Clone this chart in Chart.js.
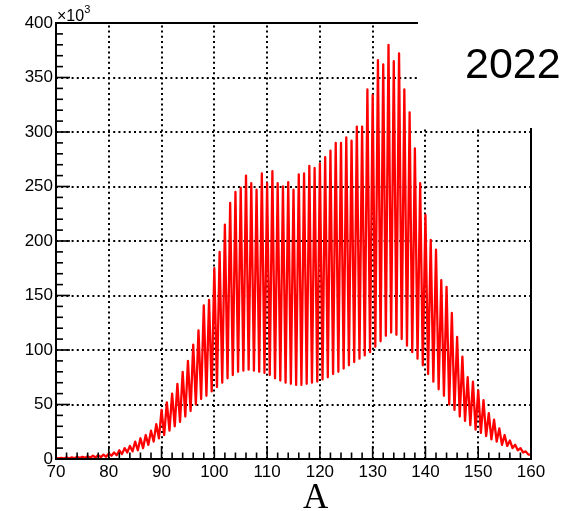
<!DOCTYPE html>
<html><head><meta charset="utf-8">
<script src="https://cdn.jsdelivr.net/npm/chart.js@4/dist/chart.umd.min.js"></script>
<style>html,body{margin:0;padding:0;background:#fff;overflow:hidden}#wrap{width:572px;height:511px;position:relative}</style>
</head><body><div id="wrap"><canvas id="c" width="572" height="511"></canvas></div>
<script>
// Mass numbers A (peaks at integer A, valleys at A + 0.5)
const massNumbers = [70,71,72,73,74,75,76,77,78,79,80,81,82,83,84,85,86,87,88,89,90,91,92,93,94,95,96,97,98,99,100,101,102,103,104,105,106,107,108,109,110,111,112,113,114,115,116,117,118,119,120,121,122,123,124,125,126,127,128,129,130,131,132,133,134,135,136,137,138,139,140,141,142,143,144,145,146,147,148,149,150,151,152,153,154,155,156,157,158,159,160];
// counts (x10^3) at integer A
const peakCounts = [1,1,1.5,1.5,2,2,2.5,3,3.5,4,5,6,8,10,12,16,19,22,26,32,45,52,60,69,80,90,105,118,141,146,175,190,215,235,245,249,260,253,247,262,253,264,253,250,254,247,261,262,269,267,271,277,283,290,290,295,292,305,305,339,334,366,362,380,365,372,339,318,285,253,224,201,192,164,158,134,112,94,75,71,63,54,42,36,28,22,17,13,10,7,4];
// counts (x10^3) at A + 0.5 (70.5 ... 159.5)
const valleyCounts = [0.5,0.5,0.5,0.7,0.8,1,1.2,1.4,1.7,2,3,3.5,4.5,6,7,8,10,13,16,19,22,26,30,34,39,44,50,55,58,62,66,70,74,77,80,81,82,81,80,79,77,74,72,70,69,68,68,69,70,71,73,75,78,80,83,86,89,92,95,98,103,108,113,116,114,110,104,98,92,86,78,71,64,58,50,45,39,35,31,27,24,21,18,16,13,12,10,8,6,4];
const xTickValues = [70,80,90,100,110,120,130,140,150,160];
const yTickValues = [0,50,100,150,200,250,300,350,400];
const yearLabel = '2022';
const xAxisTitle = 'A';
const yMultiplier = '\u00d710';
const yExponent = '3';

const points = [];
for (let i = 0; i < massNumbers.length; i++) {
  points.push({x: massNumbers[i], y: peakCounts[i]});
  if (i < valleyCounts.length) points.push({x: massNumbers[i] + 0.5, y: valleyCounts[i]});
}

const SANS = "'Liberation Sans', Arial, Helvetica, sans-serif";
const SERIF = "'Liberation Serif', 'Times New Roman', serif";
const COVER = {left: 418, bottom: 127};

function seg(ctx, x1, y1, x2, y2){ ctx.beginPath(); ctx.moveTo(x1,y1); ctx.lineTo(x2,y2); ctx.stroke(); }

const rootStyle = {
  id: 'rootStyle',
  beforeDatasetsDraw(chart){
    const {ctx, chartArea: a, scales: {x, y}} = chart;
    ctx.save();
    ctx.strokeStyle = '#000'; ctx.lineWidth = 2; ctx.setLineDash([2, 3.2]);
    for (const v of xTickValues) {
      if (v === x.min || v === x.max) continue;
      const px = Math.round(x.getPixelForValue(v));
      seg(ctx, px, a.bottom, px, a.top);
    }
    for (const v of yTickValues) {
      if (v === y.min || v === y.max) continue;
      const py = Math.round(y.getPixelForValue(v));
      seg(ctx, a.left, py, a.right, py);
    }
    ctx.restore();
  },
  afterDatasetsDraw(chart){
    const {ctx, chartArea: a, scales: {x, y}} = chart;
    ctx.save();
    ctx.fillStyle = '#fff';
    ctx.fillRect(COVER.left, 0, chart.width - COVER.left, COVER.bottom);
    ctx.strokeStyle = '#000'; ctx.lineWidth = 1.6; ctx.setLineDash([]);
    for (let v = x.min; v <= x.max; v += 2) {
      const px = x.getPixelForValue(v);
      const major = xTickValues.includes(v);
      seg(ctx, px, a.bottom, px, a.bottom - (major ? 13 : 6.5));
    }
    for (let v = y.min; v <= y.max; v += 10) {
      const py = y.getPixelForValue(v);
      const major = yTickValues.includes(v);
      seg(ctx, a.left, py, a.left + (major ? 14 : 7), py);
    }
    ctx.lineWidth = 2;
    seg(ctx, a.left, a.top, a.left, a.bottom + 1);
    seg(ctx, a.left - 1, a.bottom, a.right + 1, a.bottom);
    seg(ctx, a.left - 1, a.top, COVER.left, a.top);
    seg(ctx, a.right, COVER.bottom + 1, a.right, a.bottom);
    ctx.restore();
  },
  afterDraw(chart){
    const {ctx, chartArea: a} = chart;
    ctx.save();
    ctx.fillStyle = '#000';
    ctx.textBaseline = 'alphabetic'; ctx.textAlign = 'left';
    ctx.font = '16px ' + SANS;
    ctx.fillText(yMultiplier, a.left + 1, 21);
    const w = ctx.measureText(yMultiplier).width;
    ctx.font = '11px ' + SANS;
    ctx.fillText(yExponent, a.left + 1 + w, 13);
    ctx.font = '43px ' + SANS;
    ctx.fillText(yearLabel, 465, 78);
    ctx.font = '35px ' + SERIF;
    ctx.fillText(xAxisTitle, 303, 508);
    ctx.restore();
  }
};

new Chart(document.getElementById('c'), {
  type: 'line',
  data: { datasets: [{ data: points, borderColor: '#ff0000', borderWidth: 2.3, pointRadius: 0, tension: 0, fill: false, borderJoinStyle: 'round' }] },
  options: {
    responsive: false, animation: false, devicePixelRatio: 1,
    layout: { padding: { left: 0, right: 41, top: 23, bottom: 0 } },
    plugins: { legend: { display: false }, tooltip: { enabled: false } },
    scales: {
      x: {
        type: 'linear', min: 70, max: 160,
        grid: { display: false, drawTicks: false }, border: { display: false },
        afterBuildTicks(s){ s.ticks = xTickValues.map(v => ({value: v})); },
        afterFit(s){ s.height = 52; },
        ticks: { autoSkip: false, maxRotation: 0, padding: 3, color: '#000', font: { family: SANS, size: 17 } }
      },
      y: {
        type: 'linear', min: 0, max: 400,
        grid: { display: false, drawTicks: false }, border: { display: false },
        afterBuildTicks(s){ s.ticks = yTickValues.map(v => ({value: v})); },
        afterFit(s){ s.width = 56; },
        ticks: { padding: 3, color: '#000', font: { family: SANS, size: 17 } }
      }
    }
  },
  plugins: [rootStyle]
});
</script></body></html>
